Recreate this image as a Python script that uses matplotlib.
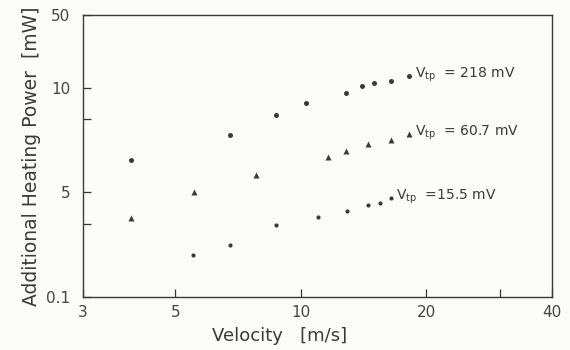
import numpy as np
import matplotlib
matplotlib.use("Agg")
import matplotlib.pyplot as plt
from matplotlib.scale import FuncScale

# velocity [m/s] and additional heating power [mW]
v_218 = [3.91, 6.76, 8.70, 10.26, 12.8, 14.0, 15.0, 16.4, 18.2]
p_218 = [6.19, 7.31, 8.34, 9.05, 9.67, 10.45, 11.2, 11.6, 13.0]

v_607 = [3.91, 5.55, 7.79, 11.6, 12.8, 14.5, 16.4, 18.2]
p_607 = [1.88, 5.0, 5.61, 6.33, 6.56, 6.88, 7.07, 7.36]

v_155 = [5.52, 6.76, 8.70, 10.96, 12.9, 14.5, 15.5, 16.4]
p_155 = [0.478, 0.694, 1.46, 1.99, 2.49, 3.12, 3.28, 4.0]

labels = [r"$\mathregular{V_{tp}}$  = 218 mV", r"$\mathregular{V_{tp}}$  = 60.7 mV",
          r"$\mathregular{V_{tp}}$  =15.5 mV"]

x_ticks = [3, 5, 10, 20, 40]
y_ticks = [0.1, 5, 10, 50]

# the printed y axis is not evenly spaced, so map it piece by piece (log inside each piece)
y_knots = np.log10([0.1, 5, 10, 50])
y_pos = np.array([0.0, 105.0, 209.0, 282.0])


def fwd(v):
    v = np.clip(np.asarray(v, dtype=float), 1e-6, None)
    return np.interp(np.log10(v), y_knots, y_pos)


def inv(p):
    return 10 ** np.interp(p, y_pos, y_knots)


ink = "#3a3a3a"
plt.rcParams["font.family"] = ["DejaVu Sans"]

fig = plt.figure(figsize=(5.7, 3.5), dpi=100)
fig.patch.set_facecolor("#fbfbf7")
ax = fig.add_axes([0.1456, 0.1514, 0.8228, 0.8057])
ax.set_facecolor("#fbfbf7")

ax.set_xscale("log")
ax.set_yscale(FuncScale(ax.yaxis, (fwd, inv)))
ax.set_xlim(3, 40)
ax.set_ylim(0.1, 50)

ax.plot(v_218, p_218, "o", ms=3.6, color=ink, mec="none")
ax.plot(v_607, p_607, "^", ms=3.8, color=ink, mec="none")
ax.plot(v_155, p_155, "o", ms=3.0, color=ink, mec="none")

for xs, ys, lab in zip([v_218, v_607, v_155], [p_218, p_607, p_155], labels):
    ax.annotate(lab, xy=(xs[-1], ys[-1]), xytext=(4, 1), textcoords="offset points",
                ha="left", va="center", fontsize=10, color=ink)

ax.set_xticks(x_ticks)
ax.set_xticklabels([str(t) for t in x_ticks])
ax.set_xticks([30], minor=True)
ax.set_yticks(y_ticks)
ax.set_yticklabels(["0.1", "5", "10", "50"])
ax.set_yticks([1.52, 8.13], minor=True)
ax.xaxis.set_minor_formatter(plt.NullFormatter())
ax.yaxis.set_minor_formatter(plt.NullFormatter())

ax.tick_params(which="both", direction="in", length=6, width=0.9, color=ink,
               labelcolor="#444444", labelsize=11)
ax.tick_params(axis="x", pad=6)
ax.tick_params(axis="y", pad=9)
for s in ax.spines.values():
    s.set_color(ink)
    s.set_linewidth(1.0)

ax.set_xlabel("Velocity   [m/s]", fontsize=13, color=ink)
ax.xaxis.set_label_coords(0.42, -0.105)
ax.set_ylabel("Additional Heating Power  [mW]", fontsize=13.5, color=ink, labelpad=4)

fig.savefig("out.png", dpi=100, facecolor=fig.get_facecolor())
